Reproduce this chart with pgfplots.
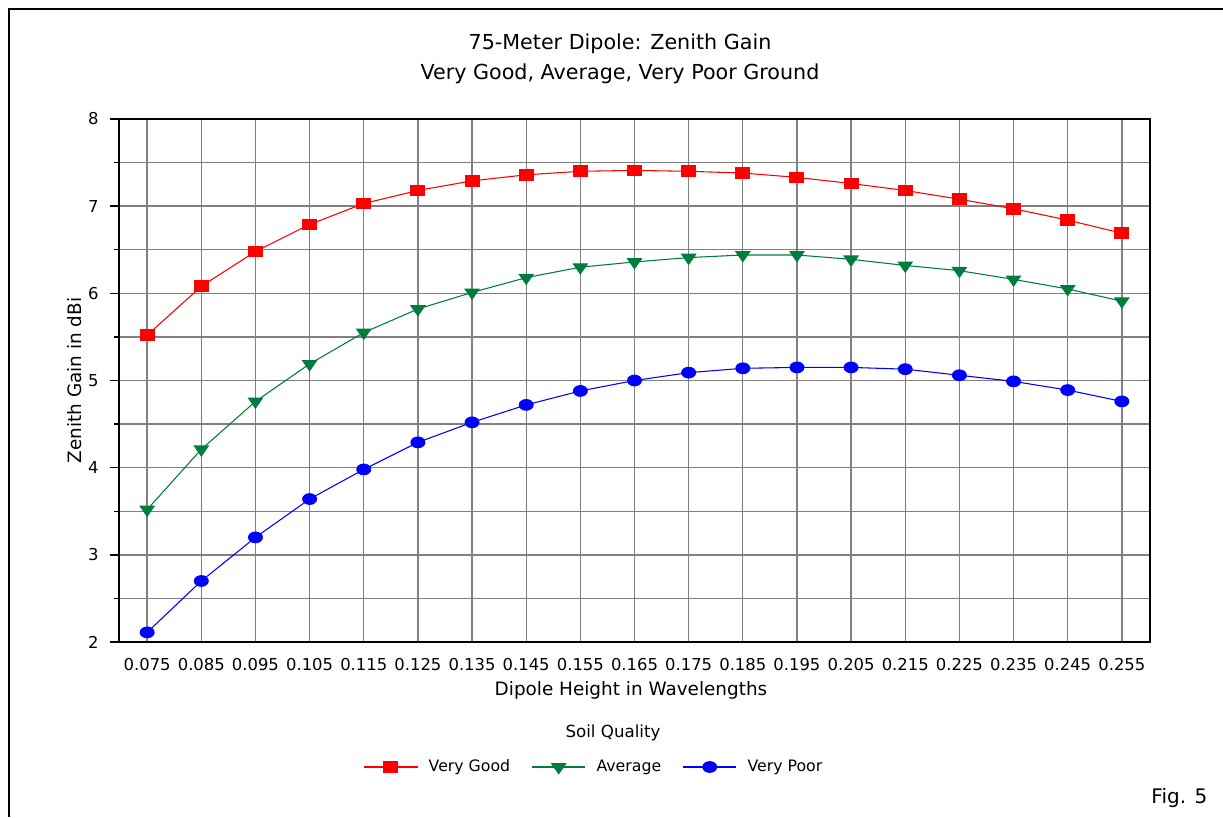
\documentclass[border=0pt]{standalone}
\usepackage{pgfplots}
\pgfplotsset{compat=1.18}
\usepackage{fontspec}
\setmainfont{DejaVu Sans}
\definecolor{vgred}{RGB}{255,0,0}
\definecolor{avgreen}{RGB}{0,125,60}
\definecolor{vpblue}{RGB}{0,0,255}
\definecolor{gridgray}{RGB}{128,128,128}
\begin{document}
\begin{tikzpicture}[x=0.75pt,y=0.75pt]
\path[use as bounding box] (-119,-175) rectangle (1104,642);
\fill[white] (-119,-175) rectangle (1104,642);
\draw[line width=1.5pt] (-110,-175) -- (-110,633) -- (1104,633);
\node[font=\fontsize{15.5}{18}\selectfont] at (501,598) {75-Meter Dipole: Zenith Gain};
\node[font=\fontsize{15.5}{18}\selectfont] at (501,568) {Very Good, Average, Very Poor Ground};
\node[font=\fontsize{12.5}{15}\selectfont] at (494,-91) {Soil Quality};
\node[font=\fontsize{15}{18}\selectfont, anchor=east] at (1093,-156) {Fig. 5};
\begin{axis}[
  at={(0pt,0pt)}, anchor=south west,
  scale only axis, width=773.25pt, height=392.25pt,
  xmin=0.0698, xmax=0.2602, ymin=2, ymax=8,
  xtick={0.075,0.085,0.095,0.105,0.115,0.125,0.135,0.145,0.155,0.165,0.175,0.185,0.195,0.205,0.215,0.225,0.235,0.245,0.255},
  xticklabels={0.075,0.085,0.095,0.105,0.115,0.125,0.135,0.145,0.155,0.165,0.175,0.185,0.195,0.205,0.215,0.225,0.235,0.245,0.255},
  ytick={2,3,4,5,6,7,8},
  minor ytick={2.5,3.5,4.5,5.5,6.5,7.5},
  xmajorgrids, ymajorgrids, yminorgrids,
  major grid style={gridgray, line width=1pt},
  minor grid style={gridgray, line width=1pt},
  axis line style={black, line width=1.5pt},
  tick pos=left,
  xtick style={draw=none},
  ytick style={black, line width=1pt},
  minor tick style={black, line width=1pt},
  tick align=outside,
  major tick length=6.75pt, minor tick length=3.75pt,
  tick label style={font=\fontsize{12.3}{14}\selectfont},
  /pgf/number format/assume math mode=true,
  xticklabel style={yshift=-2pt},
  yticklabel style={xshift=-5pt},
  xlabel={Dipole Height in Wavelengths},
  ylabel={Zenith Gain in dBi},
  label style={font=\fontsize{13.8}{16}\selectfont},
  xlabel style={at={(axis description cs:0.4966,-0.0918)}, anchor=center},
  ylabel style={at={(axis description cs:-0.0427,0.5)}, anchor=center},
  legend columns=3,
  legend style={at={(axis description cs:0.461,-0.239)}, anchor=center, draw=none, fill=none,
    font=\fontsize{11.8}{14}\selectfont,
    /tikz/every odd column/.append style={column sep=6pt},
    /tikz/every even column/.append style={column sep=14pt}},
  legend cell align=left,
  legend image code/.code={\draw[mark repeat=2,mark phase=2] plot coordinates {(0pt,0pt) (20pt,0pt) (40pt,0pt)};},
]
\addplot[vgred, line width=0.8pt, mark=square*, mark size=4pt, mark options={solid, xscale=1.3}] coordinates {
(0.075,5.52) (0.085,6.08) (0.095,6.48) (0.105,6.79) (0.115,7.03) (0.125,7.18) (0.135,7.29) (0.145,7.36) (0.155,7.40) (0.165,7.41) (0.175,7.40) (0.185,7.38) (0.195,7.33) (0.205,7.26) (0.215,7.18) (0.225,7.08) (0.235,6.97) (0.245,6.84) (0.255,6.69)};
\addlegendentry{Very Good}
\addplot[avgreen, line width=0.8pt, mark=triangle*, mark size=5pt, mark options={solid, rotate=180, xscale=1.2}] coordinates {
(0.075,3.52) (0.085,4.21) (0.095,4.76) (0.105,5.19) (0.115,5.55) (0.125,5.82) (0.135,6.01) (0.145,6.18) (0.155,6.30) (0.165,6.36) (0.175,6.41) (0.185,6.44) (0.195,6.44) (0.205,6.39) (0.215,6.32) (0.225,6.26) (0.235,6.16) (0.245,6.05) (0.255,5.91)};
\addlegendentry{Average}
\addplot[vpblue, line width=0.8pt, mark=*, mark size=4pt, mark options={solid, xscale=1.3}] coordinates {
(0.075,2.11) (0.085,2.70) (0.095,3.20) (0.105,3.64) (0.115,3.98) (0.125,4.29) (0.135,4.52) (0.145,4.72) (0.155,4.88) (0.165,5.00) (0.175,5.09) (0.185,5.14) (0.195,5.15) (0.205,5.15) (0.215,5.13) (0.225,5.06) (0.235,4.99) (0.245,4.89) (0.255,4.76)};
\addlegendentry{Very Poor}
\end{axis}
\end{tikzpicture}
\end{document}
